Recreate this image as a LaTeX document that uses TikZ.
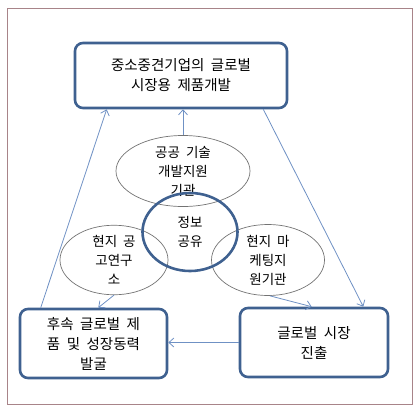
\documentclass[tikz,border=0pt]{standalone}
\usepackage{fontspec}
\setmainfont[WordSpace=2]{Noto Sans CJK KR}
\usepackage{xcolor}
\usetikzlibrary{shapes.geometric}
\usetikzlibrary{arrows.meta}
\usetikzlibrary{positioning}
\tikzset{>={Straight Barb[length=5pt,width=9pt]}}
\definecolor{boxblue}{HTML}{3F6190}
\definecolor{linkblue}{HTML}{6F91C4}
\definecolor{framered}{HTML}{A88489}
\tikzset{
  goalbox/.style = {draw=boxblue, line width=2.6pt, rounded corners=8pt, align=center,
                    inner sep=0pt, font=\fontsize{14.5}{20}\selectfont},
  actor/.style   = {ellipse, draw=gray!90!black, line width=0.7pt, align=center,
                    inner sep=0pt, font=\fontsize{13.5}{19}\selectfont},
  link/.style    = {->, draw=linkblue, line width=0.8pt}
}
\begin{document}
\begin{tikzpicture}[x=1pt, y=-1pt]
    \useasboundingbox (0,0) rectangle (420,412);
    \draw [framered, line width=0.8pt] (7,8) rectangle (412,404);

    \node (goal)  [goalbox, minimum width=212pt, minimum height=65pt] at (181,75.5) {중소중견기업의 글로벌\\시장용 제품개발};
    \node (next)  [goalbox, minimum width=147pt, minimum height=69pt] at (93.5,343.5) {후속 글로벌 제\\품 및 성장동력\\발굴};
    \node (entry) [goalbox, minimum width=148pt, minimum height=69pt] at (314,342.5) {글로벌 시장\\진출};

    \node (pub) [actor, minimum width=134pt, minimum height=63pt] at (183,171) {공공 기술\\개발지원\\기관};
    \node (lab) [actor, minimum width=108pt, minimum height=64pt] at (114,260) {현지 공\\고연구\\소};
    \node (mkt) [actor, minimum width=113pt, minimum height=64pt] at (268,260) {현지 마\\케팅지\\원기관};
    \node (info) [actor, draw=boxblue, line width=2.6pt, minimum width=95pt, minimum height=78pt] at (190,232) {정보\\공유};

    \draw [link] ([xshift=22pt]next.north west) -- ([xshift=33pt]goal.south west);
    \draw [link] (pub.north) -- (pub.north |- goal.south);
    \draw [link] ([xshift=-25pt]goal.south east) -- ([xshift=-26pt]entry.north east);
    \draw [link] (lab.south) -- ([xshift=-70pt]next.north east);
    \draw [link] ([xshift=2pt]mkt.south) -- ([xshift=73pt]entry.north west);
    \draw [link] (entry.west) -- (entry.west -| next.east);
\end{tikzpicture}
\end{document}
